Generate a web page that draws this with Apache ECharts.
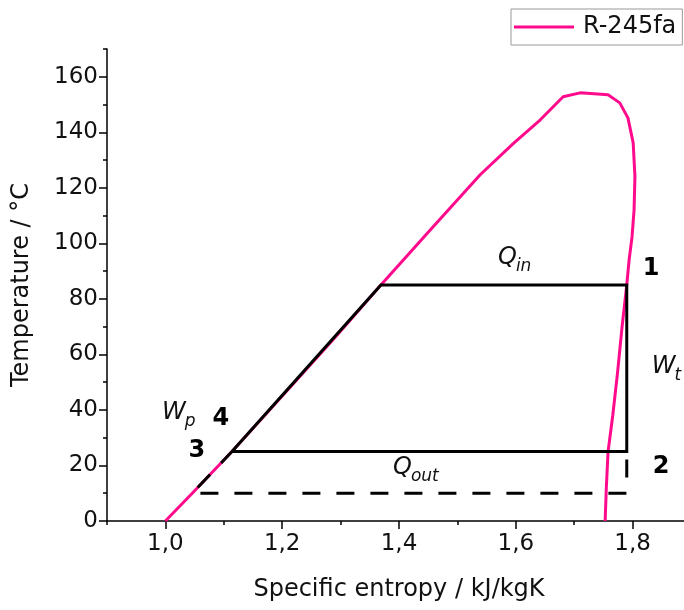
<!DOCTYPE html>
<html>
<head>
<meta charset="utf-8">
<script src="https://cdn.jsdelivr.net/npm/echarts@6/dist/echarts.min.js"></script>
<style>
  html, body { margin: 0; padding: 0; background: #fff; }
  #chart { width: 684px; height: 610px; }
</style>
</head>
<body>
<div id="chart"></div>
<script>
// Saturation dome of R-245fa, [specific entropy kJ/kgK, temperature °C]
const domeEntropy = [1.000, 1.046, 1.114, 1.200, 1.290, 1.369, 1.450, 1.539, 1.596, 1.642, 1.681, 1.710, 1.758, 1.778, 1.792, 1.801, 1.804, 1.8025, 1.799, 1.794, 1.790, 1.782, 1.774, 1.766, 1.758, 1.755, 1.753];
const domeTemp    = [0,     10,    25,    45,    66,    85,    104,   124.7, 136,   144.5, 152.8, 154.2, 153.5, 150.6, 145.2, 136.2, 124,   112,    102.3, 94,    85,    70,    53,    38,    25,    12,    0];

// Rankine cycle 3 -> 4 -> 1 -> 2 -> 3 (solid)
const cycleEntropy = [1.114, 1.369, 1.790, 1.790, 1.114];
const cycleTemp    = [25,    85,    85,    25,    25];

// Lower-temperature variant 2 -> 10 °C -> 3 (dashed)
const lowEntropy = [1.790, 1.790, 1.046, 1.114];
const lowTemp    = [25,    10,    10,    25];

// Axis ticks
const xMajor = [1.0, 1.2, 1.4, 1.6, 1.8];
const xMinor = [0.9, 1.1, 1.3, 1.5, 1.7, 1.9];
const yMajor = [0, 20, 40, 60, 80, 100, 120, 140, 160];
const yMinor = [10, 30, 50, 70, 90, 110, 130, 150, 170];

// State point numbers and heat/work annotations: [text, entropy, temperature]
const stateLabels = [['1', 1.8315, 90.8], ['2', 1.8486, 19.5], ['3', 1.054, 25.2], ['4', 1.095, 36.8]];
const flowLabels  = [['Q', 'in', 1.5695, 94.8], ['Q', 'out', 1.3897, 19.1], ['W', 't', 1.833, 55.5], ['W', 'p', 0.994, 38.9]];

const FONT = 'DejaVu Sans';
const PINK = '#ff0a8c';
const zip = (a, b) => a.map((v, i) => [v, b[i]]);

const chart = echarts.init(document.getElementById('chart'), null, { renderer: 'canvas' });

const axisLine = { show: true, lineStyle: { color: '#000', width: 1.5 } };
const tickStyle = { color: '#000', width: 1.5 };
const labelStyle = { color: '#111', fontSize: 23, fontFamily: FONT };

chart.setOption({
  animation: false,
  backgroundColor: '#fff',
  grid: { left: 107, right: -7, top: 49, bottom: 89, containLabel: false, outerBoundsMode: 'none' },
  legend: {
    data: ['R-245fa'],
    left: 511, top: 9,
    padding: [6, 6, 6, 3],
    borderColor: '#999', borderWidth: 1,
    backgroundColor: '#fff',
    icon: 'rect', itemWidth: 60, itemHeight: 3,
    textStyle: { color: '#111', fontSize: 24, fontFamily: FONT, padding: [0, 0, 0, 4] }
  },
  xAxis: [{
    type: 'value', min: 0.9, max: 1.9,
    axisLine,
    axisTick: { show: true, length: 8, inside: false, customValues: xMajor, lineStyle: tickStyle },
    axisLabel: Object.assign({ customValues: xMajor, margin: 12,
      formatter: v => v.toFixed(1).replace('.', ',') }, labelStyle),
    splitLine: { show: false },
    name: 'Specific entropy / kJ/kgK', nameLocation: 'middle', nameGap: 57,
    nameTextStyle: { color: '#111', fontSize: 24, fontFamily: FONT }
  }, {
    type: 'value', min: 0.9, max: 1.9, position: 'bottom',
    axisLine: { show: false },
    axisTick: { show: true, length: 4, customValues: xMinor, lineStyle: tickStyle },
    axisLabel: { show: false }, splitLine: { show: false }
  }],
  yAxis: [{
    type: 'value', min: 0, max: 170,
    axisLine,
    axisTick: { show: true, length: 8, customValues: yMajor, lineStyle: tickStyle },
    axisLabel: Object.assign({ customValues: yMajor, margin: 9 }, labelStyle),
    splitLine: { show: false },
    name: 'Temperature / °C', nameLocation: 'middle', nameGap: 73,
    nameTextStyle: { color: '#111', fontSize: 24, fontFamily: FONT }
  }, {
    type: 'value', min: 0, max: 170, position: 'left',
    axisLine: { show: false },
    axisTick: { show: true, length: 4, customValues: yMinor, lineStyle: tickStyle },
    axisLabel: { show: false }, splitLine: { show: false }
  }],
  series: [{
    name: 'R-245fa', type: 'line', data: zip(domeEntropy, domeTemp),
    showSymbol: false, symbol: 'none', color: PINK,
    lineStyle: { color: PINK, width: 3 }, z: 2
  }, {
    name: 'cycle', type: 'line', data: zip(cycleEntropy, cycleTemp),
    showSymbol: false, symbol: 'none',
    lineStyle: { color: '#000', width: 3, join: 'miter' }, z: 3
  }, {
    name: 'cycle-low', type: 'line', data: zip(lowEntropy, lowTemp),
    showSymbol: false, symbol: 'none',
    lineStyle: { color: '#000', width: 3, type: [18, 16], dashOffset: 26 }, z: 3
  }]
});

// Annotations anchored at data coordinates
const px = (s, t) => chart.convertToPixel({ xAxisIndex: 0, yAxisIndex: 0 }, [s, t]);
const graphics = [];
stateLabels.forEach(([txt, s, t]) => {
  const [x, y] = px(s, t);
  graphics.push({ type: 'text', x, y, z: 10, style: {
    text: txt, fill: '#000', font: 'bold 24px "' + FONT + '"', align: 'center', verticalAlign: 'middle' } });
});
flowLabels.forEach(([main, sub, s, t]) => {
  const [x, y] = px(s, t);
  const mainFont = 'italic 24px "' + FONT + '"';
  const w = echarts.format.getTextRect ? echarts.format.getTextRect(main, mainFont).width : 20;
  graphics.push({ type: 'text', x, y, z: 10, style: {
    text: main, fill: '#111', font: mainFont, align: 'left', verticalAlign: 'middle' } });
  graphics.push({ type: 'text', x: x + w - 1, y: y + 9, z: 10, style: {
    text: sub, fill: '#111', font: 'italic 17px "' + FONT + '"', align: 'left', verticalAlign: 'middle' } });
});
chart.setOption({ graphic: graphics });
</script>
</body>
</html>
